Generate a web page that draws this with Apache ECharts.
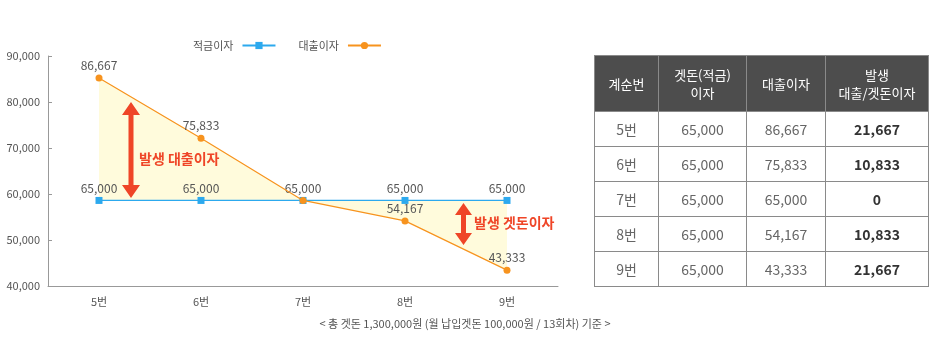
<!DOCTYPE html>
<html>
<head>
<meta charset="utf-8">
<script src="https://cdn.jsdelivr.net/npm/echarts@6/dist/echarts.min.js"></script>
<style>
html,body{margin:0;padding:0;background:#fff;}
#wrap{position:relative;width:930px;height:360px;font-family:'Noto Sans CJK KR','Noto Sans',sans-serif;}
#chart{position:absolute;left:0;top:0;width:930px;height:360px;}
#tbl{position:absolute;left:594px;top:55px;border-collapse:collapse;table-layout:fixed;font-family:'Noto Sans CJK KR','Noto Sans',sans-serif;}
#tbl th{background:#4d4d4d;color:#fff;font-weight:normal;font-size:13px;line-height:18px;height:55px;padding:0;border:1px solid #8a8a8a;text-align:center;}
#tbl td{height:34px;padding:0;border:1px solid #8a8a8a;text-align:center;font-size:14px;color:#666;}
#tbl td.b{font-weight:bold;color:#333;}
</style>
</head>
<body>
<div id="wrap">
<div id="chart"></div>
<table id="tbl"></table>
</div>
<script>
// ---- data ----
const categories = ['5번', '6번', '7번', '8번', '9번'];
// plotted positions
const savingPlot = [58600, 58600, 58600, 58600, 58600];
const loanPlot = [85200, 72100, 58600, 54150, 43450];
// printed values (labels and table)
const savingInterest = [65000, 65000, 65000, 65000, 65000];
const loanInterest = [86667, 75833, 65000, 54167, 43333];
const gapInterest = [21667, 10833, 0, 10833, 21667];
const loanLabelShown = [true, true, false, true, true];
const yTicks = [40000, 50000, 60000, 70000, 80000, 90000];
const seriesNames = ['적금이자', '대출이자'];
const tableHeader = ['계순번', '겟돈(적금)<br>이자', '대출이자', '발생<br>대출/겟돈이자'];
const colWidths = [64, 88, 79, 103];
const footerText = '< 총 겟돈 1,300,000원 (월 납입겟돈 100,000원 / 13회차) 기준 >';
const note1 = '발생 대출이자';
const note2 = '발생 겟돈이자';

const fmt = v => v.toLocaleString('en-US');
const FONT = "'Noto Sans CJK KR','Noto Sans',sans-serif";
const BLUE = '#2ca9ee', ORANGE = '#f7931e', FILL = '#fffbdc', RED = '#ef4527';

// table
(function(){
  const t = document.getElementById('tbl');
  let h = '<colgroup>' + colWidths.map(w => '<col style="width:' + w + 'px">').join('') + '</colgroup>';
  h += '<tr>' + tableHeader.map(x => '<th>' + x + '</th>').join('') + '</tr>';
  categories.forEach((c, i) => {
    h += '<tr><td>' + c + '</td><td>' + fmt(savingInterest[i]) + '</td><td>' + fmt(loanInterest[i]) + '</td><td class="b">' + fmt(gapInterest[i]) + '</td></tr>';
  });
  t.innerHTML = h;
})();

const base = savingPlot.map((s, i) => Math.min(s, loanPlot[i]));
const diff = savingPlot.map((s, i) => Math.abs(s - loanPlot[i]));

function arrow(cx, top, bottom, headW, headH, shaftW) {
  const hw = headW / 2, sw = shaftW / 2;
  return [[cx, top], [cx + hw, top + headH], [cx + sw, top + headH], [cx + sw, bottom - headH], [cx + hw, bottom - headH],
          [cx, bottom], [cx - hw, bottom - headH], [cx - sw, bottom - headH], [cx - sw, top + headH], [cx - hw, top + headH]];
}

const chart = echarts.init(document.getElementById('chart'));
chart.setOption({
  animation: false,
  textStyle: { fontFamily: FONT },
  legend: {
    data: seriesNames,
    left: 188, top: 35,
    align: 'right',
    itemWidth: 33, itemHeight: 9, itemGap: 22,
    textStyle: { fontSize: 11, color: '#555', fontFamily: FONT, padding: [0, 4, 0, 0] }
  },
  grid: { left: 48, right: 372, top: 56, bottom: 74 },
  xAxis: {
    type: 'category', data: categories, boundaryGap: true,
    axisLine: { lineStyle: { color: '#999' } },
    axisTick: { inside: true, length: 4, lineStyle: { color: '#999' } },
    axisLabel: { fontSize: 11, color: '#555', margin: 10, fontFamily: FONT }
  },
  yAxis: {
    type: 'value', min: yTicks[0], max: yTicks[yTicks.length - 1], interval: yTicks[1] - yTicks[0],
    axisLine: { show: true, lineStyle: { color: '#999' } },
    axisTick: { show: true, inside: true, length: 4, lineStyle: { color: '#999' } },
    splitLine: { show: false },
    axisLabel: { fontSize: 11, color: '#555', margin: 8, fontFamily: FONT, formatter: v => fmt(v) }
  },
  series: [
    { name: 'base', type: 'line', stack: 'gap', data: base, showSymbol: false, symbol: 'none',
      lineStyle: { opacity: 0 }, silent: true, z: 1 },
    { name: 'diff', type: 'line', stack: 'gap', data: diff, showSymbol: false, symbol: 'none',
      lineStyle: { opacity: 0 }, areaStyle: { color: FILL, opacity: 1 }, silent: true, z: 1 },
    { name: seriesNames[0], type: 'line', data: savingPlot, color: BLUE, symbol: 'rect', symbolSize: 7,
      lineStyle: { width: 1.2, color: BLUE }, itemStyle: { color: BLUE }, z: 3,
      label: { show: true, position: 'top', distance: 3, fontSize: 12, color: '#555', fontFamily: FONT,
               formatter: p => fmt(savingInterest[p.dataIndex]) } },
    { name: seriesNames[1], type: 'line', data: loanPlot.map((v, i) => ({ value: v, label: { show: loanLabelShown[i] } })),
      color: ORANGE, symbol: 'circle', symbolSize: 7,
      lineStyle: { width: 1.2, color: ORANGE }, itemStyle: { color: ORANGE }, z: 4,
      label: { show: true, position: 'top', distance: 3, fontSize: 12, color: '#555', fontFamily: FONT,
               formatter: p => fmt(loanInterest[p.dataIndex]) } }
  ],
  graphic: [
    { type: 'polygon', shape: { points: arrow(131, 102, 198, 18, 13, 5) }, style: { fill: RED }, z: 10 },
    { type: 'polygon', shape: { points: arrow(463.5, 203, 245, 17, 12, 5) }, style: { fill: RED }, z: 10 },
    { type: 'text', left: 139, top: 152, z: 10,
      style: { text: note1, fill: RED, fontSize: 14, fontWeight: 'bold', fontFamily: FONT } },
    { type: 'text', left: 474, top: 216, z: 10,
      style: { text: note2, fill: RED, fontSize: 14, fontWeight: 'bold', fontFamily: FONT } },
    { type: 'text', left: 'center', top: 318, z: 10,
      style: { text: footerText, fill: '#555', fontSize: 11, fontFamily: FONT } }
  ]
});
</script>
</body>
</html>
